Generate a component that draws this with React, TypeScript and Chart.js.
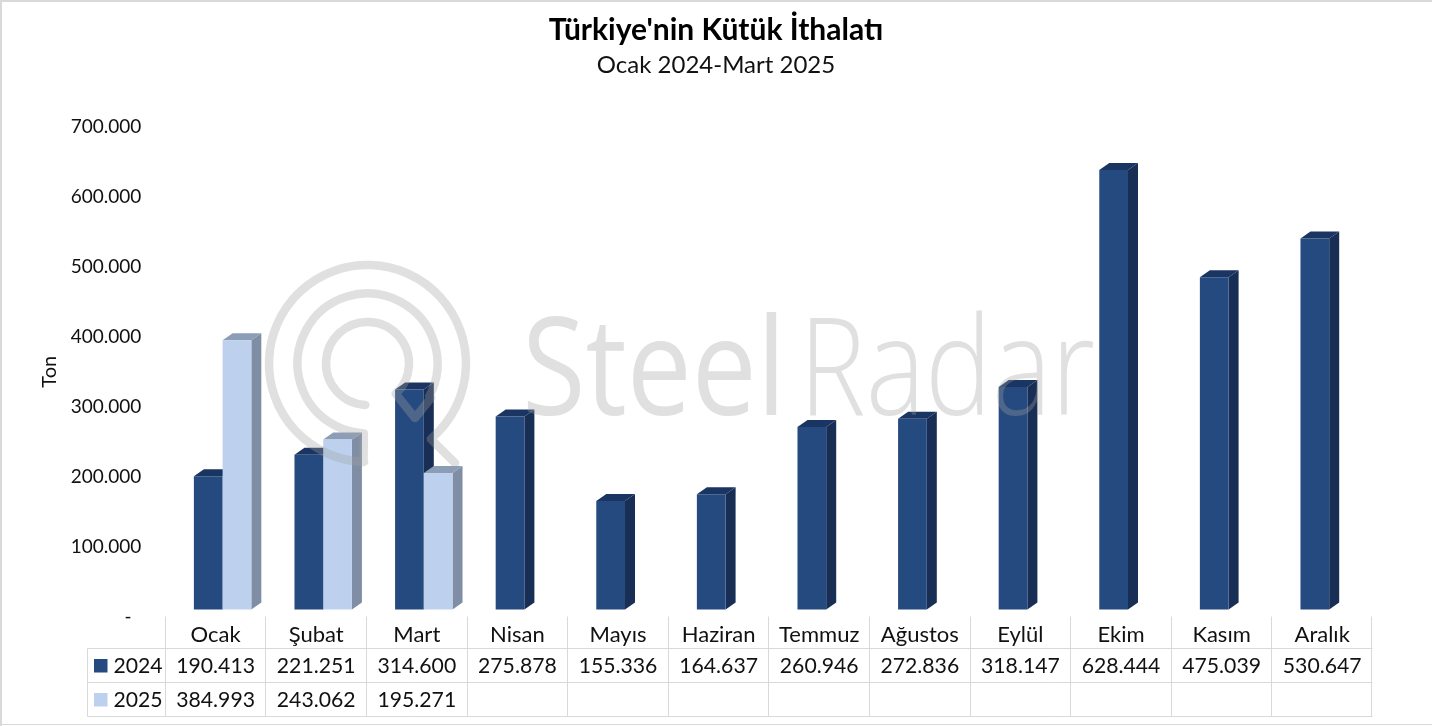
import React, { useEffect, useRef } from "react";
import { Chart, registerables } from "chart.js";

Chart.register(...registerables);

const categories = ["Ocak", "Şubat", "Mart", "Nisan", "Mayıs", "Haziran", "Temmuz", "Ağustos", "Eylül", "Ekim", "Kasım", "Aralık"];
const values2024 = [190413, 221251, 314600, 275878, 155336, 164637, 260946, 272836, 318147, 628444, 475039, 530647];
const values2025: (number | null)[] = [384993, 243062, 195271, null, null, null, null, null, null, null, null, null];
const seriesNames = ["2024", "2025"];
const titleText = "Türkiye'nin Kütük İthalatı";
const subtitleText = "Ocak 2024-Mart 2025";
const axisTitle = "Ton";
const watermarkWords = ["Steel", "Radar"];

const FONT = "Lato, 'Open Sans', sans-serif";
const FRONT = ["#254A7F", "#BDD1EE"];
const SIDE = ["#182E55", "#7F8EA5"];
const TOP = ["#1B3562", "#8C9DB6"];
const DX = 10;
const DY = -7;
const WALL = 7;
const TEXT = "#111111";
const LINE = "#D9D9D9";

const fmt = (v: number | null) => (v === null ? "" : String(v).replace(/\B(?=(\d{3})+(?!\d))/g, "."));

function drawDepth(chart: any, i: number) {
  const ctx = chart.ctx;
  const meta = chart.getDatasetMeta(i);
  const raw = chart.data.datasets[i].data;
  meta.data.forEach((bar: any, idx: number) => {
    if (raw[idx] === null) return;
    const p = bar.getProps(["x", "y", "base", "width"], true);
    const x0 = p.x - p.width / 2;
    const x1 = p.x + p.width / 2;
    ctx.fillStyle = SIDE[i];
    ctx.beginPath();
    ctx.moveTo(x1, p.y);
    ctx.lineTo(x1 + DX, p.y + DY);
    ctx.lineTo(x1 + DX, p.base + DY);
    ctx.lineTo(x1, p.base);
    ctx.closePath();
    ctx.fill();
    ctx.fillStyle = TOP[i];
    ctx.beginPath();
    ctx.moveTo(x0, p.y);
    ctx.lineTo(x0 + DX, p.y + DY);
    ctx.lineTo(x1 + DX, p.y + DY);
    ctx.lineTo(x1, p.y);
    ctx.closePath();
    ctx.fill();
  });
}

// The library paints the last dataset first; the 2025 bars have to sit in front of
// the 2024 side faces, so they are painted right after the 2024 bars.
const depthPlugin = {
  id: "depth",
  beforeDatasetDraw(chart: any, args: any) {
    if (args.index === 1) return false;
    const ctx = chart.ctx;
    ctx.save();
    ctx.translate(WALL, -WALL);
    drawDepth(chart, 0);
  },
  afterDatasetDraw(chart: any, args: any) {
    if (args.index !== 0) return;
    drawDepth(chart, 1);
    chart.getDatasetMeta(1).controller.draw();
    chart.ctx.restore();
  },
};

const watermarkPlugin = {
  id: "watermark",
  afterDatasetsDraw(chart: any) {
    const ctx = chart.ctx;
    const c = "rgba(160,160,160,0.33)";
    const cx = 367.5;
    const cy = 363.5;
    const rad = (d: number) => (d * Math.PI) / 180;
    ctx.save();
    ctx.strokeStyle = c;
    ctx.lineWidth = 8.5;
    ctx.lineCap = "round";
    ctx.lineJoin = "round";
    ctx.beginPath();
    ctx.arc(cx, cy, 41.5, rad(93), rad(407));
    ctx.lineTo(415, 418);
    ctx.lineTo(431, 398);
    ctx.arc(cx, cy, 70, rad(28), rad(93), true);
    ctx.lineTo(363.5, 462);
    ctx.arc(cx, cy, 98.5, rad(92), rad(410));
    ctx.lineTo(455, 463);
    ctx.stroke();
    ctx.fillStyle = c;
    ctx.textBaseline = "alphabetic";
    ctx.textAlign = "left";
    ctx.font = "500 136px 'Open Sans', sans-serif";
    ctx.fillText(watermarkWords[0], 522, 415, 264);
    ctx.font = "300 136px 'Open Sans', sans-serif";
    ctx.fillText(watermarkWords[1], 799, 415, 296);
    ctx.restore();
  },
};

const tablePlugin = {
  id: "dataTable",
  afterDraw(chart: any) {
    const ctx = chart.ctx;
    const x = chart.scales.x;
    const step = x.getPixelForTick(1) - x.getPixelForTick(0);
    const left = x.left;
    const right = x.right;
    const top = chart.chartArea.bottom;
    const rowY = [648.5, 682.5, 716.5];
    const keyLeft = 87.5;
    ctx.save();
    ctx.strokeStyle = LINE;
    ctx.lineWidth = 1;
    ctx.beginPath();
    rowY.forEach((y) => {
      ctx.moveTo(keyLeft, y);
      ctx.lineTo(right, y);
    });
    ctx.moveTo(keyLeft, rowY[0]);
    ctx.lineTo(keyLeft, rowY[2]);
    categories.forEach((_, i) => {
      const px = Math.floor(left + step * i) + 0.5;
      ctx.moveTo(px, top);
      ctx.lineTo(px, rowY[2]);
    });
    ctx.moveTo(Math.floor(right) - 0.5, top);
    ctx.lineTo(Math.floor(right) - 0.5, rowY[2]);
    ctx.stroke();

    ctx.font = `21.2px ${FONT}`;
    ctx.fillStyle = TEXT;
    ctx.textBaseline = "middle";
    [values2024, values2025].forEach((vals, r) => {
      const cy = (rowY[r] + rowY[r + 1]) / 2 + 0.5;
      ctx.fillStyle = FRONT[r];
      ctx.fillRect(94, cy - 7, 13.5, 13.5);
      ctx.fillStyle = TEXT;
      ctx.textAlign = "left";
      ctx.fillText(seriesNames[r], 113.5, cy);
      ctx.textAlign = "center";
      vals.forEach((v, i) => {
        if (v !== null) ctx.fillText(fmt(v), x.getPixelForTick(i), cy);
      });
    });

    ctx.fillStyle = LINE;
    ctx.fillRect(0, 0, chart.width, 2);
    ctx.fillRect(0, 0, 2, chart.height);
    ctx.fillRect(0, chart.height - 2, chart.width, 1);
    ctx.restore();
  },
};

export default function App() {
  const ref = useRef<HTMLCanvasElement>(null);
  useEffect(() => {
    document.body.style.margin = "0";
    document.body.style.background = "#ffffff";
    const chart = new Chart(ref.current!, {
      type: "bar",
      data: {
        labels: categories,
        datasets: [
          { label: seriesNames[0], data: values2024, backgroundColor: FRONT[0], clip: false, yAxisID: "y" } as any,
          { label: seriesNames[1], data: values2025, backgroundColor: FRONT[1], clip: false, yAxisID: "y" } as any,
        ],
      },
      plugins: [depthPlugin, watermarkPlugin, tablePlugin],
      options: {
        responsive: false,
        animation: false,
        devicePixelRatio: 1,
        datasets: { bar: { categoryPercentage: 0.571, barPercentage: 1 } },
        plugins: {
          legend: { display: false },
          tooltip: { enabled: false },
          title: {
            display: true,
            text: titleText,
            color: "#000000",
            font: { family: FONT, size: 30, weight: "bold", lineHeight: 1.2 },
            padding: { top: 12, bottom: 0 },
          },
          subtitle: {
            display: true,
            text: subtitleText,
            color: "#111111",
            font: { family: FONT, size: 24, weight: "normal", lineHeight: 1.2 },
            padding: { top: 2.6, bottom: 47.6 },
          },
        },
        scales: {
          x: {
            grid: { display: false, drawTicks: false },
            border: { display: false },
            ticks: {
              color: TEXT,
              font: { family: FONT, size: 22 },
              padding: 5,
              maxRotation: 0,
              autoSkip: false,
            },
            afterFit(scale: any) {
              scale.height = 109.5;
            },
          },
          y: {
            min: 0,
            max: 700000,
            grid: { display: false, drawTicks: false },
            border: { display: false },
            title: {
              display: true,
              text: axisTitle,
              color: TEXT,
              font: { family: FONT, size: 20 },
              padding: { top: 38, bottom: 0 },
            },
            ticks: {
              stepSize: 100000,
              color: TEXT,
              font: { family: FONT, size: 19 },
              padding: 24,
              callback: (v: any) => (v === 0 ? "-  " : fmt(v as number)),
            },
            afterFit(scale: any) {
              scale.width = 165.3;
            },
          },
          rightMargin: {
            position: "right",
            min: 0,
            max: 1,
            grid: { display: false, drawTicks: false },
            border: { display: false },
            ticks: { display: false },
            afterFit(scale: any) {
              scale.width = 59.5;
            },
          },
        },
      },
    } as any);
    return () => chart.destroy();
  }, []);
  return <canvas ref={ref} width={1432} height={726} style={{ display: "block" }} />;
}
